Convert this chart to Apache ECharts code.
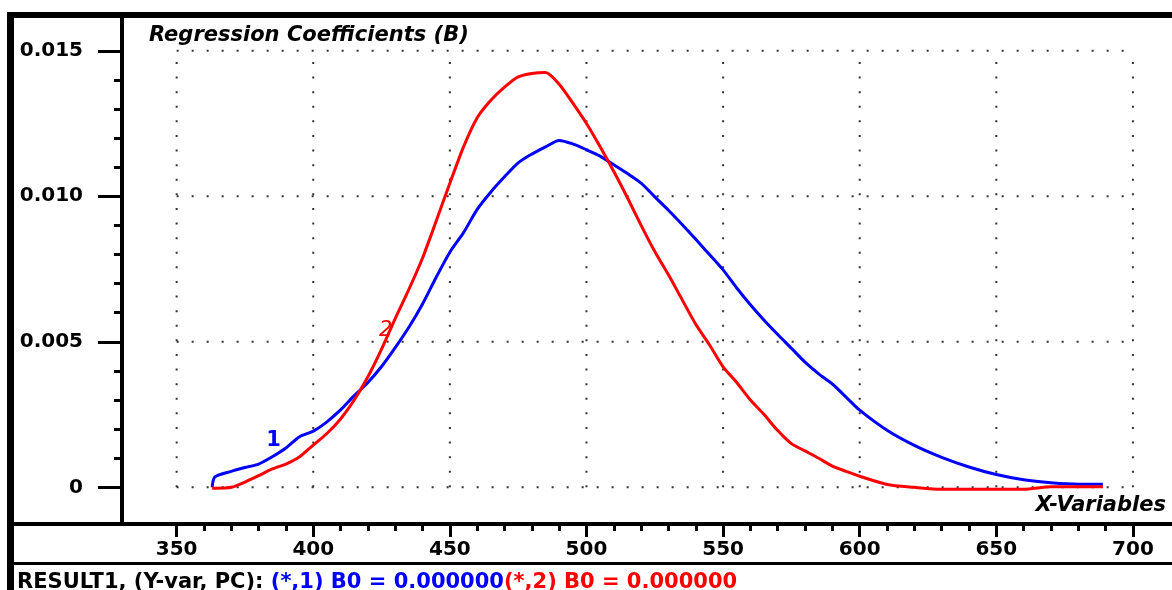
<!DOCTYPE html>
<html>
<head>
<meta charset="utf-8">
<script src="https://cdn.jsdelivr.net/npm/echarts@6/dist/echarts.min.js"></script>
<style>
  html,body{margin:0;padding:0;background:#fff;}
  #chart{width:1172px;height:590px;}
</style>
</head>
<body>
<div id="chart"></div>
<script>
// x-variables (wavelength-like) and the two coefficient vectors
var xVars = [363, 364, 370, 375, 380, 385, 390, 395, 400, 405, 410, 415, 420, 425, 430, 435, 440, 445, 450, 455,
  460, 465, 470, 475, 480, 485, 490, 495, 500, 505, 510, 515, 520, 525, 530, 535, 540, 545, 550, 555,
  560, 565, 570, 575, 580, 585, 590, 595, 600, 610, 620, 630, 640, 650, 660, 670, 680, 689];
var coef1 = [0, 0.00036, 0.00055, 0.00068, 0.00080, 0.00105, 0.00135, 0.00174, 0.00193, 0.00225, 0.00266, 0.00315, 0.00360, 0.00415, 0.00480, 0.00550, 0.00630, 0.00722, 0.00808, 0.00875,
  0.00955, 0.01015, 0.01067, 0.01115, 0.01145, 0.01170, 0.01192, 0.01180, 0.01160, 0.01138, 0.01108, 0.01078, 0.01045, 0.00998, 0.00952, 0.00903, 0.00852, 0.00800, 0.00747, 0.00685,
  0.00627, 0.00574, 0.00525, 0.00478, 0.00430, 0.00390, 0.00355, 0.00310, 0.00265, 0.00196, 0.00144, 0.00103, 0.00070, 0.00044, 0.00026, 0.00016, 0.00011, 0.00011];
var coef2 = [-0.00003, -0.00003, 0, 0.00018, 0.00040, 0.00063, 0.00080, 0.00105, 0.00145, 0.00185, 0.00235, 0.00300, 0.00380, 0.00475, 0.00580, 0.00680, 0.00788, 0.00915, 0.01045, 0.01170,
  0.01270, 0.01330, 0.01375, 0.01410, 0.01422, 0.01425, 0.01385, 0.01320, 0.01250, 0.01170, 0.01085, 0.00995, 0.00900, 0.00810, 0.00730, 0.00645, 0.00560, 0.00490, 0.00414, 0.00360,
  0.00300, 0.00250, 0.00195, 0.00150, 0.00125, 0.00100, 0.00073, 0.00055, 0.00038, 0.00010, 0, -0.00007, -0.00007, -0.00007, -0.00007, 0.00002, 0.00002, 0.00002];

var xMajor = [350, 400, 450, 500, 550, 600, 650, 700];
var yMajor = [0, 0.005, 0.010, 0.015];
var curveLabels = [['1', 385.5, 0.0016], ['2', 426.5, 0.0054]];

var xMinor = [];
for (var i = 360; i < 700; i += 10) { if (i % 50 != 0) xMinor.push(i); }
var yMinor = [];
for (var j = 1; j < 15; j++) { if (j % 5 != 0) yMinor.push(j / 1000); }

var FONT = 'DejaVu Sans';
var gridColor = '#333';

function zip(xs, ys) {
  return xs.map(function (x, k) { return [x, ys[k]]; });
}

var series = [];
// dotted grid
xMajor.forEach(function (x) {
  series.push({
    type: 'line', silent: true, symbol: 'none', animation: false,
    data: [[x, yMajor[0]], [x, yMajor[yMajor.length - 1]]],
    lineStyle: { color: gridColor, width: 2, type: [2, 12.6] }
  });
});
yMajor.forEach(function (y) {
  series.push({
    type: 'line', silent: true, symbol: 'none', animation: false,
    data: [[xMajor[0], y], [xMajor[xMajor.length - 1], y]],
    lineStyle: { color: gridColor, width: 2, type: [2, 13] }
  });
});
series.push({
  type: 'line', name: '1', symbol: 'none', animation: false, smooth: 0.25,
  data: zip(xVars, coef1),
  lineStyle: { color: '#0000ff', width: 3 }
});
series.push({
  type: 'line', name: '2', symbol: 'none', animation: false, smooth: 0.25,
  data: zip(xVars, coef2),
  lineStyle: { color: '#ff0000', width: 3 }
});
series.push({
  type: 'scatter', symbolSize: 0, silent: true, animation: false,
  itemStyle: { opacity: 1 },
  data: [
    { value: [curveLabels[0][1], curveLabels[0][2]], name: curveLabels[0][0], label: { color: '#0000ff', fontWeight: 'bold' } },
    { value: [curveLabels[1][1], curveLabels[1][2]], name: curveLabels[1][0], label: { color: '#ff0000', fontStyle: 'italic', fontWeight: 'normal' } }
  ],
  label: { show: true, position: 'inside', formatter: '{b}', fontFamily: FONT, fontSize: 21 }
});

var chart = echarts.init(document.getElementById('chart'));
chart.setOption({
  backgroundColor: '#fff',
  animation: false,
  title: [{
    text: 'Regression Coefficients (B)',
    left: 144, top: 20,
    textStyle: { fontFamily: FONT, fontSize: 21, fontWeight: 'bold', fontStyle: 'italic', color: '#000' }
  }, {
    text: '{k|RESULT1, (Y-var, PC): }{b|(*,1) B0 = 0.000000}{r|(*,2) B0 = 0.000000}',
    left: 12, top: 567,
    textStyle: {
      rich: {
        k: { fontFamily: FONT, fontSize: 21, fontWeight: 'bold', color: '#000' },
        b: { fontFamily: FONT, fontSize: 21, fontWeight: 'bold', color: '#0000ff' },
        r: { fontFamily: FONT, fontSize: 21, fontWeight: 'bold', color: '#ff0000' }
      }
    }
  }],
  grid: { left: 122, right: 0, top: 17, bottom: 66 },
  xAxis: [{
    type: 'value', min: 330, max: 714.3, position: 'bottom',
    axisLine: { show: false, onZero: false },
    splitLine: { show: false },
    axisTick: { show: true, customValues: xMajor, length: 13, lineStyle: { color: '#000', width: 3 } },
    axisLabel: { customValues: xMajor, margin: 16, fontFamily: FONT, fontWeight: 'bold', fontSize: 20, color: '#000' }
  }, {
    type: 'value', min: 330, max: 714.3, position: 'bottom',
    axisLine: { show: false, onZero: false },
    splitLine: { show: false },
    axisTick: { show: true, customValues: xMinor, length: 7, lineStyle: { color: '#000', width: 3 } },
    axisLabel: { show: false }
  }],
  yAxis: [{
    type: 'value', min: -0.00126, max: 0.01616, position: 'left',
    axisLine: { show: true, onZero: false, lineStyle: { color: '#000', width: 4 } },
    splitLine: { show: false },
    axisTick: { show: true, customValues: yMajor, length: 24, lineStyle: { color: '#000', width: 3 } },
    axisLabel: {
      customValues: yMajor, margin: 39, fontFamily: FONT, fontWeight: 'bold', fontSize: 20, color: '#000',
      formatter: function (v) { return v === 0 ? '0' : v.toFixed(3); }
    }
  }, {
    type: 'value', min: -0.00126, max: 0.01616, position: 'left',
    axisLine: { show: false, onZero: false },
    splitLine: { show: false },
    axisTick: { show: true, customValues: yMinor, length: 8, lineStyle: { color: '#000', width: 3 } },
    axisLabel: { show: false }
  }],
  graphic: [
    { type: 'rect', shape: { x: 7, y: 12, width: 1165, height: 6 }, style: { fill: '#000' } },
    { type: 'rect', shape: { x: 7, y: 12, width: 7, height: 578 }, style: { fill: '#000' } },
    { type: 'rect', shape: { x: 7, y: 522, width: 1165, height: 4 }, style: { fill: '#000' } },
    { type: 'rect', shape: { x: 7, y: 562, width: 1165, height: 3 }, style: { fill: '#000' } },
    {
      type: 'text', right: 6, top: 495,
      style: { text: 'X-Variables', fontFamily: FONT, fontSize: 21, fontWeight: 'bold', fontStyle: 'italic', fill: '#000' }
    }
  ],
  series: series
});
</script>
</body>
</html>
